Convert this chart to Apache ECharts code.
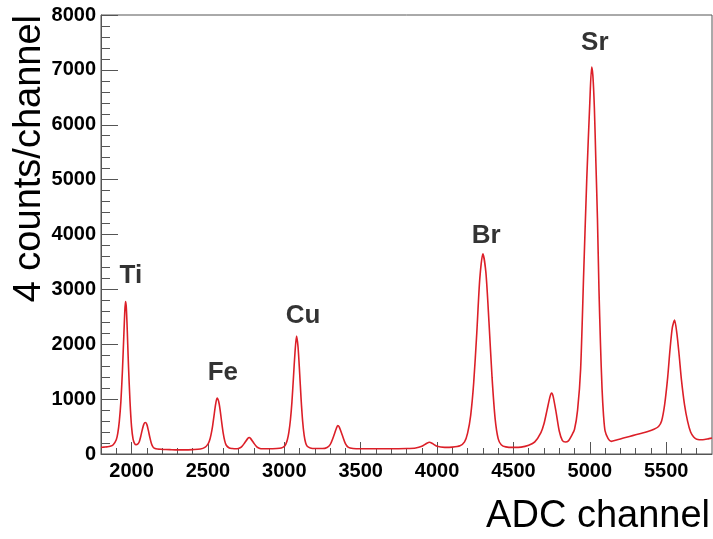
<!DOCTYPE html>
<html>
<head>
<meta charset="utf-8">
<script src="https://cdn.jsdelivr.net/npm/echarts@6/dist/echarts.min.js"></script>
<style>html,body{margin:0;padding:0;background:#fff}#c{width:713px;height:539px}</style>
</head>
<body>
<div id="c"></div>
<script>
// ADC channel (x) and counts per 4 channels (y)
var channels = [1800,1820,1840,1860,1880,1900,1910,1920,1930,1940,1950,1955,1960,1965,1970,1975,1980,1990,2000,2010,2020,2030,2040,2050,2060,2070,2080,2090,2100,2110,2120,2130,2140,2150,2170,2200,2250,2300,2350,2400,2450,2480,2500,2510,2520,2530,2540,2550,2560,2570,2580,2590,2600,2610,2620,2640,2660,2680,2700,2720,2740,2760,2770,2780,2800,2820,2840,2860,2900,2950,2980,3000,3010,3020,3030,3040,3050,3060,3070,3080,3090,3100,3110,3120,3130,3140,3150,3170,3200,3250,3280,3300,3320,3340,3350,3360,3380,3400,3420,3450,3500,3600,3700,3800,3860,3900,3930,3950,3970,4000,4050,4100,4150,4180,4200,4220,4240,4260,4280,4300,4320,4340,4360,4380,4400,4420,4450,4500,4550,4600,4640,4680,4700,4720,4740,4750,4760,4780,4800,4820,4840,4860,4880,4900,4920,4940,4960,4980,5000,5012,5020,5030,5040,5050,5060,5070,5080,5090,5100,5120,5140,5180,5220,5260,5300,5340,5380,5420,5450,5470,5490,5510,5525,5540,5555,5570,5585,5600,5620,5640,5660,5680,5700,5740,5780,5800];
var counts = [120,125,130,140,170,260,380,600,950,1500,2200,2550,2780,2700,2400,2000,1600,950,500,270,190,170,180,220,320,440,540,575,540,430,300,190,130,105,90,85,80,75,75,80,90,120,180,240,350,500,700,900,1020,960,800,580,380,240,160,110,100,95,100,130,200,280,300,280,200,130,100,95,95,100,110,140,180,260,400,620,950,1400,1850,2150,1950,1500,1000,600,340,200,140,110,100,100,120,170,300,460,520,490,340,190,120,100,95,95,95,100,110,140,190,215,190,140,120,125,150,220,380,700,1300,2200,3200,3650,3300,2400,1400,650,280,170,130,120,125,160,220,390,550,800,1050,1110,1050,750,420,250,220,240,330,450,800,1550,3300,5000,6400,7050,6900,6300,5300,4300,3000,2000,1200,700,420,280,230,260,290,320,350,380,410,450,500,600,900,1400,1900,2300,2440,2200,1800,1350,900,600,400,310,270,260,280,290];

// peak annotations: element name and where its label sits (data units)
var peakNames = ['Ti','Fe','Cu','Br','Sr'];
var peakLabelX = [1995,2598,3123,4322,5033];
var peakLabelY = [3252,1485,2514,3972,7488];

var xMajorTicks = [2000,2500,3000,3500,4000,4500,5000,5500];
var xMinorTicks = [];
for (var t = 1900; t <= 5700; t += 100) xMinorTicks.push(t);

var xTitle = 'ADC channel';
var yTitle = '4 counts/channel';

var lineData = channels.map(function(c,i){return [c, counts[i]];});
var labelData = peakNames.map(function(n,i){return {value:[peakLabelX[i], peakLabelY[i]], name:n};});

var FONT = 'Liberation Sans, Arial, Helvetica, sans-serif';
var axisCol = '#555';
var plain = function(v){ return String(v); };

var chart = echarts.init(document.getElementById('c'), null, {renderer:'canvas'});
chart.setOption({
  animation:false,
  backgroundColor:'#fff',
  grid:{left:101, right:1, top:15, bottom:85, show:true, borderColor:axisCol, borderWidth:1, backgroundColor:'transparent'},
  xAxis:[{
    type:'value', min:1800, max:5800, interval:100,
    axisLine:{show:true, lineStyle:{color:axisCol, width:1}},
    axisTick:{show:true, inside:true, length:12, customValues:xMajorTicks, lineStyle:{color:axisCol}},
    axisLabel:{show:true, customValues:xMajorTicks, formatter:plain, margin:7, color:'#000', fontFamily:FONT, fontWeight:'bold', fontSize:20},
    splitLine:{show:false}
  },{
    type:'value', min:1800, max:5800, interval:100, position:'bottom',
    axisLine:{show:false},
    axisTick:{show:true, inside:true, length:6, customValues:xMinorTicks, lineStyle:{color:axisCol}},
    axisLabel:{show:false},
    splitLine:{show:false}
  }],
  yAxis:{
    type:'value', min:0, max:8000, interval:1000,
    axisLine:{show:true, lineStyle:{color:axisCol, width:1}},
    axisTick:{show:true, inside:true, length:17, lineStyle:{color:axisCol}},
    minorTick:{show:true, splitNumber:5, length:9, lineStyle:{color:axisCol}},
    axisLabel:{margin:5, formatter:plain, color:'#000', fontFamily:FONT, fontWeight:'bold', fontSize:20},
    splitLine:{show:false}
  },
  series:[{
    type:'line', data:lineData, xAxisIndex:0, showSymbol:false, symbol:'none',
    lineStyle:{color:'#dc1f28', width:1.6}, smooth:0.25, z:3
  },{
    type:'scatter', data:labelData, symbolSize:0, xAxisIndex:0,
    label:{show:true, position:'inside', formatter:'{b}', color:'#000', fontFamily:FONT, fontWeight:'bold', fontSize:26},
    z:4
  }],
  graphic:[
    {type:'text', x:710, y:517, style:{text:xTitle, font:'38px ' + FONT, fill:'#000', align:'right', verticalAlign:'middle'}},
    {type:'text', x:30, y:15, rotation:Math.PI/2, style:{text:yTitle, font:'38px ' + FONT, fill:'#000', align:'right', verticalAlign:'middle'}}
  ]
});
</script>
</body>
</html>
